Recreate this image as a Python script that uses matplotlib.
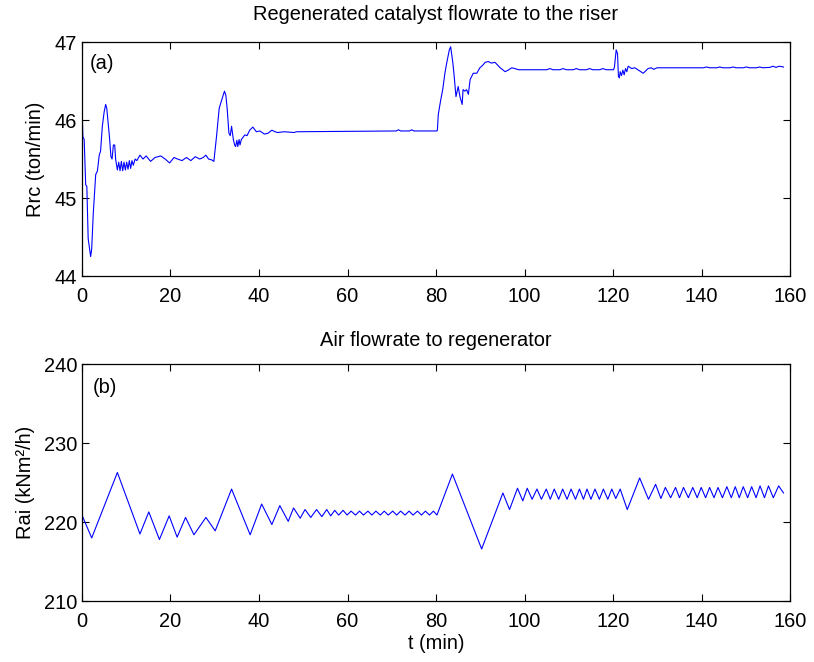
import numpy as np
import matplotlib
matplotlib.use("Agg")
from matplotlib import pyplot as plt

plt.rcParams['font.family'] = ['Liberation Sans', 'DejaVu Sans']

# (a) regenerated catalyst flowrate, breakpoints
t_rc = [0, 0.2, 0.5, 0.84, 1.1, 1.4, 1.96, 2.2, 2.55, 3.1, 3.5, 3.9, 4.2, 4.6, 5.0,
        5.35, 5.6, 6.2, 6.55, 6.8, 7.1, 7.4, 7.6, 8.0, 8.3, 8.6, 8.9, 9.2, 9.5, 9.8,
        10.1, 10.4, 10.7, 11.0, 11.3, 11.6, 12.0, 12.4, 13.1, 13.8, 14.5, 15.5, 16.5,
        17.8, 18.8, 19.8, 20.8, 21.6, 22.6, 23.6, 24.6, 25.6, 26.6, 27.4, 28.0, 28.6,
        29.3, 29.8, 30.4, 31.0, 31.8, 32.2, 32.5, 32.8, 33.2, 33.5, 33.8, 34.2, 34.5,
        34.7, 35.0, 35.2, 35.5, 35.7, 36.0, 36.8, 37.3, 37.9, 38.6, 39.4, 40.2, 41.2,
        42.0, 42.9, 43.6, 44.2, 45.7, 47.9, 48.5, 71.0, 71.5, 72.0, 74.0, 74.5, 75.0,
        80.2, 80.3, 80.5, 81.0, 81.5, 82.0, 82.4, 83.0, 83.3, 83.8, 84.1, 84.5, 85.0,
        85.4, 85.9, 86.1, 86.5, 86.9, 87.3, 87.7, 88.4, 89.2, 89.9, 90.5, 91.1, 91.8,
        92.5, 93.3, 94.5, 95.6, 96.3, 97.1, 97.8, 98.6, 105.0, 105.7, 106.4, 108.0,
        108.7, 109.4, 111.0, 111.7, 112.4, 114.0, 114.7, 115.4, 117.0, 117.7, 118.4,
        120.1, 120.3, 120.7, 121.0, 121.2, 121.4, 121.6, 121.9, 122.2, 122.5, 122.8,
        123.1, 123.4, 124.2, 124.9, 125.7, 126.8, 127.9, 128.6, 129.2, 129.9, 140.4,
        141.1, 141.8, 143.4, 144.1, 144.8, 146.4, 147.1, 147.8, 149.4, 150.1, 150.8,
        152.4, 153.1, 153.8, 155.4, 156.1, 156.8, 157.5, 158.5]
rrc = [46.22, 45.79, 45.75, 45.17, 45.15, 44.48, 44.25, 44.35, 44.8, 45.3, 45.35,
       45.55, 45.6, 45.92, 46.1, 46.2, 46.15, 45.79, 45.53, 45.5, 45.68, 45.68, 45.5,
       45.36, 45.46, 45.35, 45.47, 45.35, 45.46, 45.36, 45.46, 45.37, 45.48, 45.38,
       45.48, 45.42, 45.5, 45.48, 45.55, 45.5, 45.54, 45.47, 45.52, 45.54, 45.5, 45.45,
       45.52, 45.5, 45.48, 45.52, 45.48, 45.53, 45.5, 45.52, 45.55, 45.5, 45.49, 45.47,
       45.79, 46.15, 46.3, 46.37, 46.32, 46.15, 45.83, 45.8, 45.92, 45.75, 45.68, 45.66,
       45.74, 45.66, 45.75, 45.68, 45.75, 45.81, 45.8, 45.87, 45.91, 45.85, 45.86,
       45.82, 45.83, 45.87, 45.85, 45.84, 45.85, 45.84, 45.85, 45.86, 45.875, 45.86,
       45.86, 45.875, 45.86, 45.86, 45.87, 46.07, 46.24, 46.39, 46.6, 46.73, 46.9,
       46.94, 46.73, 46.56, 46.3, 46.43, 46.3, 46.2, 46.39, 46.37, 46.39, 46.33, 46.52,
       46.6, 46.6, 46.67, 46.7, 46.74, 46.75, 46.73, 46.74, 46.67, 46.62, 46.64, 46.67,
       46.66, 46.645, 46.645, 46.66, 46.645, 46.645, 46.66, 46.645, 46.645, 46.66,
       46.645, 46.645, 46.66, 46.645, 46.645, 46.66, 46.645, 46.645, 46.68, 46.9,
       46.85, 46.56, 46.54, 46.62, 46.57, 46.64, 46.58, 46.66, 46.62, 46.69, 46.66,
       46.67, 46.64, 46.6, 46.66, 46.67, 46.65, 46.67, 46.67, 46.68, 46.67, 46.67,
       46.68, 46.67, 46.67, 46.68, 46.67, 46.67, 46.68, 46.67, 46.67, 46.68, 46.67,
       46.675, 46.69, 46.675, 46.69, 46.68]

# (b) air flowrate to regenerator
t_rai = [0, 2.2, 8.0, 13.1, 15.1, 17.5, 19.7, 21.5, 23.4, 25.3, 28.0, 30.1, 33.8,
         38.0, 40.6, 42.9, 44.7, 46.6, 47.8, 49.3, 50.4, 51.7, 53.0, 54.2, 55.3, 56.2,
         57.1, 58.0, 59.0, 59.9, 60.8, 61.8, 62.7, 63.6, 64.6, 65.5, 66.4, 67.4, 68.3,
         69.2, 70.2, 71.1, 72.0, 73.0, 73.9, 74.8, 75.8, 76.7, 77.6, 78.5, 79.4, 80.2,
         83.7, 90.3, 95.1, 96.6, 98.4, 99.6, 100.6, 101.7, 102.8, 103.8, 104.9, 105.8,
         106.7, 107.7, 108.6, 109.6, 110.5, 111.5, 112.4, 113.3, 114.1, 115.0, 115.9,
         116.9, 117.8, 118.8, 119.7, 120.6, 121.6, 123.2, 126.0, 128.0, 129.6, 130.8,
         131.8, 133.0, 134.1, 135.0, 135.9, 137.0, 138.0, 139.0, 139.9, 140.9, 141.8,
         142.8, 143.7, 144.7, 145.7, 146.7, 147.6, 148.5, 149.4, 150.4, 151.3, 152.3,
         153.2, 154.2, 155.1, 156.2, 157.4, 158.5]
rai = [220.9, 218.0, 226.3, 218.5, 221.3, 217.8, 220.8, 218.1, 220.6, 218.4, 220.6,
       218.9, 224.2, 218.4, 222.3, 219.7, 222.1, 220.1, 221.8, 220.5, 221.6, 220.6,
       221.6, 220.7, 221.6, 220.8, 221.5, 220.9, 221.5, 220.9, 221.4, 220.9, 221.4,
       220.9, 221.4, 220.9, 221.4, 220.9, 221.4, 220.9, 221.4, 220.9, 221.4, 220.9,
       221.4, 220.9, 221.4, 220.9, 221.4, 220.9, 221.4, 220.9, 226.1, 216.6, 223.7,
       221.6, 224.3, 222.7, 224.3, 222.9, 224.2, 222.9, 224.2, 222.9, 224.2, 222.9,
       224.2, 222.9, 224.2, 222.9, 224.2, 222.9, 224.2, 222.9, 224.2, 222.9, 224.2,
       222.9, 224.2, 223.0, 224.2, 221.6, 225.6, 222.9, 224.8, 223.0, 224.4, 223.1,
       224.4, 223.1, 224.4, 223.1, 224.4, 223.1, 224.4, 223.1, 224.4, 223.1, 224.4,
       223.1, 224.5, 223.1, 224.5, 223.1, 224.5, 223.1, 224.5, 223.1, 224.6, 223.1,
       224.6, 223.1, 224.6, 223.7]

x_ticks = [0, 20, 40, 60, 80, 100, 120, 140, 160]
fs = 14.4

fig = plt.figure(figsize=(8.14, 6.62), dpi=100)
ax1 = fig.add_axes([0.1007, 0.583, 0.870, 0.3535])
ax2 = fig.add_axes([0.1007, 0.0921, 0.870, 0.3574])

def style_axis(ax):
    ax.tick_params(direction='in', top=True, right=True, length=5, labelsize=fs,
                   width=0.8)
    ax.tick_params(axis='x', pad=8)
    ax.tick_params(axis='y', pad=3.5)
    for s in ax.spines.values():
        s.set_linewidth(0.9)
    ax.set_xlim(0, 160)
    ax.set_xticks(x_ticks)

ax1.plot(t_rc, rrc, color='#0000ff', lw=0.8)
style_axis(ax1)
ax1.set_ylim(44, 47)
ax1.set_yticks([44, 45, 46, 47])
ax1.set_title("Regenerated catalyst flowrate to the riser", fontsize=fs, pad=16)
ax1.set_ylabel("Rrc (ton/min)", fontsize=fs, labelpad=7)
ax1.text(1.8, 46.73, "(a)", fontsize=fs, va='center')

ax2.plot(t_rai, rai, color='#0000ff', lw=0.8)
style_axis(ax2)
ax2.set_ylim(210, 240)
ax2.set_yticks([210, 220, 230, 240])
ax2.set_title("Air flowrate to regenerator", fontsize=fs, pad=13)
ax2.set_ylabel("Rai (kNm\u00b2/h)", fontsize=fs, labelpad=6)
ax2.set_xlabel("t (min)", fontsize=fs, labelpad=2)
ax2.text(2.4, 237.1, "(b)", fontsize=fs, va='center')

fig.savefig("out.png", dpi=100)
